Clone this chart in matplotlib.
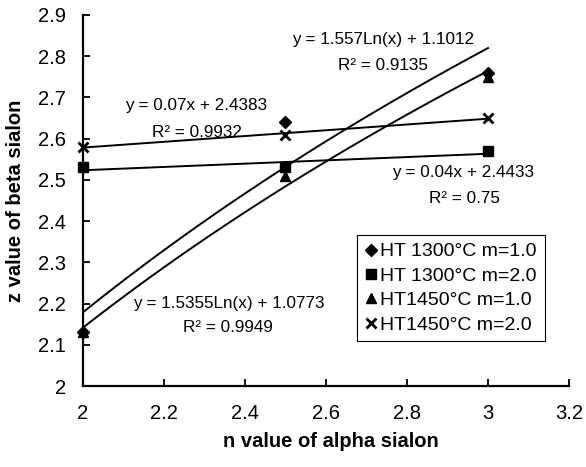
import numpy as np
import matplotlib
matplotlib.use("Agg")
import matplotlib.pyplot as plt

plt.rcParams['font.family'] = ['Liberation Sans', 'DejaVu Sans']

# --- data ---
n_alpha = [2.0, 2.5, 3.0]
ht1300_m1 = [2.13, 2.64, 2.76]
ht1300_m2 = [2.53, 2.53, 2.57]
ht1450_m1 = [2.13, 2.51, 2.75]
ht1450_m2 = [2.58, 2.61, 2.65]

labels = ["HT 1300°C m=1.0", "HT 1300°C m=2.0", "HT1450°C m=1.0", "HT1450°C m=2.0"]
markers = ["D", "s", "^", "x"]
trend_kind = ["log", "lin", "log", "lin"]

x_ticks = [2, 2.2, 2.4, 2.6, 2.8, 3, 3.2]
y_ticks = [2, 2.1, 2.2, 2.3, 2.4, 2.5, 2.6, 2.7, 2.8, 2.9]


def fit_line(x, y, kind):
    x = np.asarray(x)
    y = np.asarray(y)
    xs = np.linspace(x.min(), x.max(), 100)
    if kind == "log":
        a, b = np.polyfit(np.log(x), y, 1)
        return xs, a * np.log(xs) + b
    a, b = np.polyfit(x, y, 1)
    return xs, a * xs + b


fig = plt.figure(figsize=(5.86, 4.67), dpi=100)
ax = fig.add_axes([0.1416, 0.1734, 0.8294, 0.7946])

series = [ht1300_m1, ht1300_m2, ht1450_m1, ht1450_m2]
for ys, lab, mk, kind in zip(series, labels, markers, trend_kind):
    xs, yfit = fit_line(n_alpha, ys, kind)
    ax.plot(xs, yfit, color="black", lw=1.4, zorder=2)
    ms = 7.5 if mk != "D" else 6.5
    ax.plot(n_alpha, ys, linestyle="none", marker=mk, color="black",
            markersize=ms, mew=2 if mk == "x" else 1, label=lab, zorder=3,
            clip_on=False)

# trendline equations
fs = 12.3
ax.text(2.741, 2.840, "y = 1.557Ln(x) + 1.1012", ha="center", va="center", fontsize=fs)
ax.text(2.741, 2.777, "R² = 0.9135", ha="center", va="center", fontsize=fs)
ax.text(2.279, 2.680, "y = 0.07x + 2.4383", ha="center", va="center", fontsize=fs)
ax.text(2.281, 2.614, "R² = 0.9932", ha="center", va="center", fontsize=fs)
ax.text(2.938, 2.519, "y = 0.04x + 2.4433", ha="center", va="center", fontsize=fs)
ax.text(2.941, 2.456, "R² = 0.75", ha="center", va="center", fontsize=fs)
ax.text(2.360, 2.201, "y = 1.5355Ln(x) + 1.0773", ha="center", va="center", fontsize=fs)
ax.text(2.358, 2.141, "R² = 0.9949", ha="center", va="center", fontsize=fs)

ax.set_xlim(2, 3.2)
ax.set_ylim(2, 2.9)
ax.set_xticks(x_ticks)
ax.set_xticklabels([f"{t:g}" for t in x_ticks])
ax.set_yticks(y_ticks)
ax.set_yticklabels([f"{t:g}" for t in y_ticks])
ax.tick_params(direction="in", length=5, width=1.3, labelsize=14.5)
ax.tick_params(axis="x", pad=13)
ax.tick_params(axis="y", pad=12)

for side in ["top", "right"]:
    ax.spines[side].set_visible(False)
for side in ["left", "bottom"]:
    ax.spines[side].set_linewidth(1.6)

ax.set_xlabel("n value of alpha sialon", fontsize=14.5, fontweight="bold")
ax.set_ylabel("z value of beta sialon", fontsize=14.5, fontweight="bold")
ax.xaxis.set_label_coords(0.51, -0.125)
ax.yaxis.set_label_coords(-0.12, 0.5)

leg = ax.legend(loc="upper left", bbox_to_anchor=(0.564, 0.407), fontsize=14,
                handlelength=0.6, handletextpad=0.2, labelspacing=0.35,
                borderpad=0.4, fancybox=False, framealpha=1, edgecolor="black",
                numpoints=1, borderaxespad=0)
leg.get_frame().set_linewidth(0.8)

fig.savefig("out.png", dpi=100)
